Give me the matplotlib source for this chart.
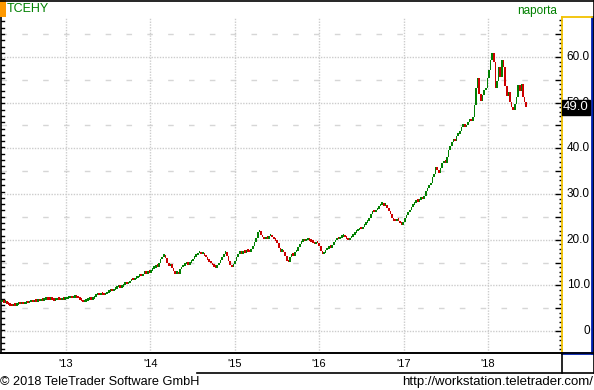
import numpy as np
import pandas as pd
import matplotlib
matplotlib.use('Agg')
import matplotlib.pyplot as plt
import matplotlib.dates as mdates
from matplotlib.lines import Line2D
from matplotlib.patches import Rectangle
from matplotlib.ticker import MultipleLocator

plt.rcParams['font.family'] = ['Liberation Sans', 'DejaVu Sans']

symbol = 'TCEHY'
source = 'naporta'
first_week = '2012-03-30'

# weekly closes (Fridays), one row per month
closes = [
    6.3,
    6.2, 6.4, 6.0, 5.8,                 # 2012 Apr
    5.5, 5.4, 5.7, 5.5,
    5.8, 6.0, 5.9, 6.1, 5.9,
    6.0, 6.2, 6.1, 6.3,
    6.4, 6.3, 6.5, 6.4, 6.6,
    6.5, 6.7, 6.6, 6.8,
    7.1, 6.9, 6.8, 7.0,
    6.8, 6.6, 6.7, 6.9, 6.8,
    6.7, 6.9, 6.8, 7.0,
    7.1, 7.2, 7.3, 7.2,                 # 2013 Jan
    7.3, 7.4, 7.3, 7.2,
    6.9, 6.6, 6.3, 6.4, 6.6,
    6.9, 7.0, 6.8, 7.1,
    7.5, 7.8, 7.9, 7.8, 8.0,
    7.9, 7.8, 8.1, 8.4,
    8.6, 8.8, 8.7, 9.0,
    9.3, 9.6, 9.8, 9.5, 9.7,
    10.1, 10.4, 10.2, 10.5,
    10.9, 11.3, 11.1, 11.4,
    11.6, 11.9, 12.2, 12.0, 12.5,
    12.8, 12.6, 13.0, 12.8,
    13.2, 13.6, 13.9, 14.3, 14.1,       # 2014 Jan
    14.8, 15.7, 16.3, 16.6,
    15.9, 14.9, 14.2, 14.6,
    13.8, 13.1, 12.5, 12.9,
    12.4, 13.5, 14.0, 14.3, 14.6,
    14.8, 14.5, 15.0, 15.3,
    15.8, 16.3, 16.6, 17.0,
    17.2, 16.8, 17.1, 16.5, 16.2,
    15.6, 15.2, 14.8, 14.4,
    14.1, 13.9, 14.4, 15.0, 15.6,
    16.3, 16.9, 17.2, 16.4,
    15.3, 14.5, 14.0, 14.6,
    15.4, 16.3, 16.9, 17.2, 16.9,       # 2015 Jan
    17.3, 17.1, 17.5, 17.4,
    17.2, 17.9, 18.6, 19.4,
    20.3, 21.6, 22.0, 21.0,
    20.5, 20.1, 20.6, 20.2, 20.8,
    21.0, 20.5, 20.1, 19.8,
    19.3, 18.2, 17.4, 17.8, 17.3,
    16.5, 15.4, 15.1, 16.3,
    16.8, 16.5, 17.2, 17.6,
    18.4, 19.1, 19.6, 19.9, 19.7,
    19.9, 20.2, 19.8, 19.6,
    19.3, 19.0, 19.5, 19.2,
    18.6, 17.5, 16.8, 17.1, 17.7,       # 2016 Jan
    18.0, 18.5, 18.2, 18.9,
    19.4, 19.9, 20.3, 20.1,
    20.4, 20.7, 20.9, 20.5, 20.2,
    19.9, 20.3, 20.7, 21.1,
    21.5, 21.9, 22.1, 22.5,
    22.3, 22.8, 23.3, 23.7, 24.1,
    24.8, 25.7, 26.2, 26.0,
    26.4, 26.8, 27.3, 27.7, 27.9,
    27.4, 27.7, 26.9, 26.3,
    25.6, 24.8, 24.2, 24.0,
    24.5, 24.1, 23.6, 23.3, 23.9,
    24.8, 25.5, 26.0, 26.4,             # 2017 Jan
    27.2, 27.6, 28.1, 28.5,
    28.3, 28.8, 29.2, 28.9, 29.5,
    30.6, 31.3, 31.9, 32.4,
    33.7, 34.3, 35.9, 35.2,
    34.6, 35.8, 36.7, 37.3, 36.9,
    38.2, 39.6, 40.5, 41.3,
    42.1, 41.5, 42.7, 43.2,
    43.8, 44.7, 45.3, 44.6, 45.1,
    45.8, 46.3, 45.9, 46.8,
    49.5, 53.2, 55.4, 52.0,
    50.4, 51.6, 52.7, 53.1, 55.3,
    57.1, 59.3, 60.9, 58.8,             # 2018 Jan
    53.2, 54.7, 57.9, 55.7,
    59.4, 57.8, 53.6, 51.4, 52.3,
    50.1, 49.0, 48.5, 49.6,
    51.3, 53.8, 52.5, 54.1,
    51.2, 50.1, 49.0,
]

years = [2013, 2014, 2015, 2016, 2017, 2018]
year_labels = ["'13", "'14", "'15", "'16", "'17", "'18"]
price_levels = [0, 10, 20, 30, 40, 50, 60]

W, H = 594, 390


def fx(x):
    return x / W


def fy(y):
    return 1 - y / H


fig = plt.figure(figsize=(W / 100, H / 100), dpi=100)
fig.patch.set_facecolor('white')

ax = fig.add_axes([fx(1), fy(353), fx(561), (353 - 17) / H])
panel = fig.add_axes([fx(562), fy(353), fx(30), (353 - 17) / H], sharey=ax)

dates = pd.date_range(first_week, periods=len(closes), freq='W-FRI')
x = mdates.date2num(dates)
c = np.array(closes)
prev = np.concatenate([[c[0]], c[:-1]])
low = np.minimum(prev, c)
high = np.maximum(prev, c)
height = np.maximum(high - low, 0.55)
cols = np.where(c >= prev, '#008000', '#cc0000')
ax.bar(x, height, bottom=low, width=7, color=cols, linewidth=0, zorder=3)

ymin, ymax = -4.8, 68.75
ax.set_ylim(ymin, ymax)
ax.set_xlim(mdates.date2num(pd.Timestamp('2012-03-25')),
            mdates.date2num(pd.Timestamp('2018-11-17')))

# grid
for v in np.arange(0, 70, 10):
    ax.axhline(v, color='#cccccc', lw=1, ls=(0, (1, 1)), zorder=1)
for v in np.arange(5, 70, 10):
    ax.axhline(v, color='#d6d6d6', lw=1, ls=(0, (4, 11)), zorder=1)
year_x = [mdates.date2num(pd.Timestamp(f'{y}-01-01')) for y in years]
for xv in year_x:
    ax.axvline(xv, color='#cccccc', lw=1, ls=(0, (1, 1)), zorder=1)

# left edge tick marks
for v in np.arange(67.8, ymin, -1.38):
    ax.axhline(v, xmin=0, xmax=3 / 561, color='black', lw=1, zorder=4)

ax.tick_params(axis='y', which='both', left=False, right=False,
               labelleft=False, labelright=False)
ax.set_xticks(year_x)
ax.set_xticklabels(year_labels, fontsize=8)
ax.tick_params(axis='x', length=0, pad=4)
for s in ['top', 'right']:
    ax.spines[s].set_visible(False)
ax.spines['left'].set_linewidth(1.2)
ax.spines['bottom'].set_linewidth(1.2)

# right price panel
panel.set_xticks([])
panel.yaxis.set_major_locator(MultipleLocator(5))
panel.yaxis.set_minor_locator(MultipleLocator(1))
panel.tick_params(axis='y', which='major', length=5, width=1, direction='out',
                  left=True, labelleft=False)
panel.tick_params(axis='y', which='minor', length=2.5, width=1, direction='out',
                  left=True)
panel.spines['left'].set_color('#f2c200')
panel.spines['top'].set_color('#f2c200')
panel.spines['left'].set_linewidth(1.3)
panel.spines['top'].set_linewidth(1.3)
panel.spines['right'].set_color('#0020b0')
panel.spines['bottom'].set_color('#0020b0')
panel.spines['right'].set_linewidth(2)
panel.spines['bottom'].set_linewidth(2)
for v in price_levels:
    lab = '0' if v == 0 else f'{v:.1f}'
    panel.text(0.93, v, lab, transform=panel.get_yaxis_transform(),
               ha='right', va='center', fontsize=8.5, zorder=2)
panel.text(0.03, closes[-1], f'{closes[-1]:.1f}', transform=panel.get_yaxis_transform(),
           ha='left', va='center', fontsize=9.5, color='white', zorder=5,
           bbox=dict(boxstyle='square,pad=0.1', fc='black', ec='black'))

# frame and date row lines
lines = [
    ([0, 1], [fy(0.5), fy(0.5)]),
    ([fx(593.5), fx(593.5)], [fy(0), fy(373)]),
    ([fx(0), fx(594)], [fy(353), fy(353)]),
    ([fx(197), fx(594)], [fy(373), fy(373)]),
    ([fx(562), fx(562)], [fy(353), fy(373)]),
]
for xs, ys in lines:
    fig.add_artist(Line2D(xs, ys, transform=fig.transFigure, color='black', lw=1.2))

fig.add_artist(Rectangle((0, fy(17)), fx(6), 17 / H, transform=fig.transFigure,
                         color='#ff9900', lw=0))
fig.text(fx(7), fy(9), symbol, color='#008000', fontsize=9, va='center', ha='left')
fig.text(fx(557), fy(11), source, color='#008000', fontsize=8.5, va='center', ha='right')
fig.text(fx(0), fy(382), '\u00a9 2018 TeleTrader Software GmbH', fontsize=9.2,
         va='center', ha='left')
fig.text(fx(593), fy(382), 'http://workstation.teletrader.com/', fontsize=9.5,
         va='center', ha='right')

fig.savefig('out.png', dpi=100)
